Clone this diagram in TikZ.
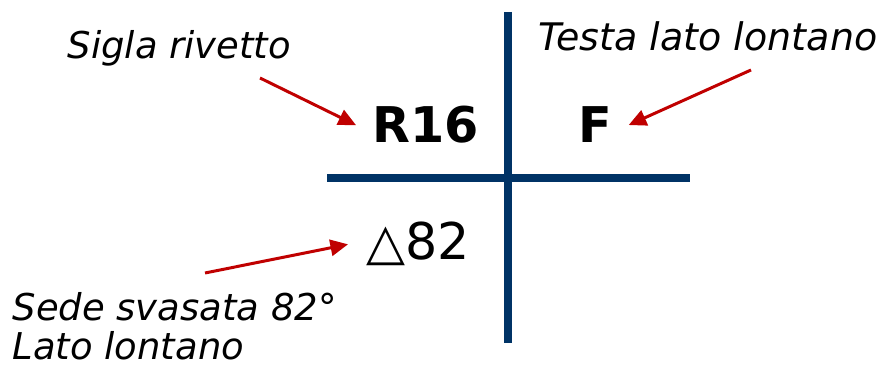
\documentclass[tikz,border=0pt]{standalone}
\usepackage{fontspec}
\setmainfont{DejaVu Sans}
\usetikzlibrary{arrows.meta}

\definecolor{navy}{RGB}{0,51,102}
\definecolor{arrowred}{RGB}{192,0,0}

\begin{document}
\begin{tikzpicture}[
    x=0.01cm,
    y=-0.01cm,
    line cap=butt,
    line join=round,
    cross/.style={draw=navy,line width=2pt},
    note/.style={font=\fontsize{10.5}{11.3}\selectfont\itshape,inner sep=0pt,align=left},
    code/.style={font=\fontsize{14}{16}\selectfont\bfseries,anchor=base west,inner xsep=4.5pt},
    pointer/.style={draw=arrowred,line width=0.85pt,-{Triangle[length=5pt,width=4.6pt]}}
]

\useasboundingbox (0,0) rectangle (886,368);

% -----------------------
% Cross
% -----------------------
\draw[cross] (508,12) -- (508,343);
\draw[cross] (327,178) -- (690,178);

% -----------------------
% Markings
% -----------------------
\node[code] (r16) at (356,143) {R16};
\node[code] (far) at (562,143) {F};
\node[code,font=\fontsize{14.4}{16}\selectfont,inner xsep=5pt] (csk) at (348,260) {△82};

% -----------------------
% Notes
% -----------------------
\node[note,anchor=base west] (sigla) at (67,59) {Sigla rivetto};
\node[note,font=\fontsize{10.8}{12}\selectfont\itshape,anchor=base east] (testa) at (878,51) {Testa lato lontano};
\node[note,anchor=base west] (sede) at (12,360) {Sede svasata 82°\\Lato lontano};

% -----------------------
% Pointers
% -----------------------
\coordinate (siglaend) at (260,78);
\coordinate (testaend) at (751,70);
\coordinate (sedeend) at (205,273);

\draw[pointer] (siglaend) -- (r16.west);
\draw[pointer] (testaend) -- (far.east);
\draw[pointer] (sedeend) -- (csk.west);

\end{tikzpicture}
\end{document}
